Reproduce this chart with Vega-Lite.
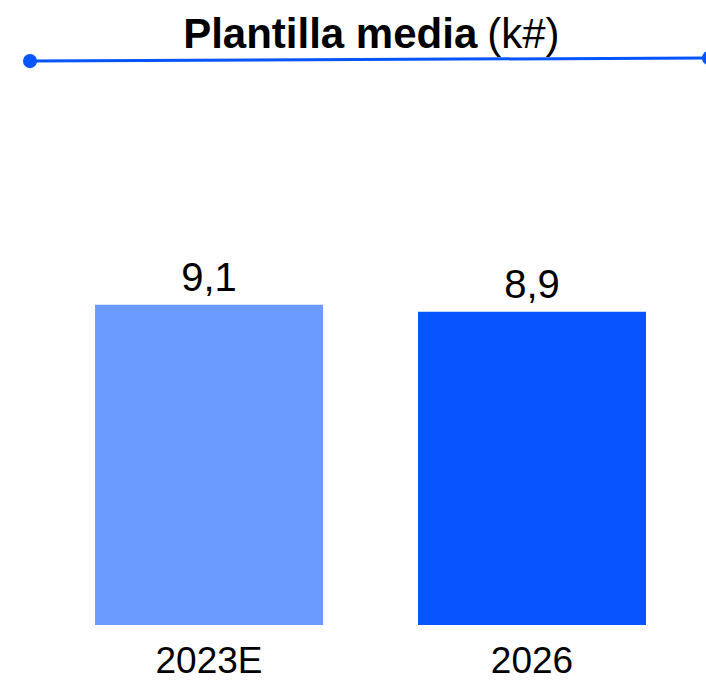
{
  "$schema": "https://vega.github.io/schema/vega-lite/v6.json",
  "width": 706,
  "height": 625,
  "autosize": {"type": "none"},
  "padding": {"left": 0, "top": 0, "right": 0, "bottom": 55},
  "background": "white",
  "config": {
    "view": {"stroke": null},
    "font": "Liberation Sans",
    "locale": {"number": {"decimal": ",", "thousands": ".", "grouping": [3], "currency": ["", " €"]}}
  },
  "data": {"values": [
    {"year": "2023E", "value": 9.1},
    {"year": "2026", "value": 8.9}
  ]},
  "resolve": {"scale": {"x": "independent"}},
  "layer": [
    {
      "mark": {"type": "bar"},
      "encoding": {
        "x": {"field": "year", "type": "nominal", "sort": null,
              "scale": {"type": "band", "paddingInner": 0.294, "paddingOuter": 0.24, "align": 0.613},
              "axis": {"title": null, "domain": false, "ticks": false, "labelAngle": 0, "labelFontSize": 37, "labelColor": "black", "labelPadding": 18, "labelFont": "Liberation Sans"}},
        "y": {"field": "value", "type": "quantitative", "scale": {"domain": [0, 17.756], "nice": false}, "axis": null},
        "color": {"field": "year", "type": "nominal", "scale": {"domain": ["2023E", "2026"], "range": ["#6B9BFF", "#0655FF"]}, "legend": null}
      }
    },
    {
      "mark": {"type": "text", "baseline": "alphabetic", "dy": -14, "fontSize": 40, "color": "black"},
      "encoding": {
        "x": {"field": "year", "type": "nominal", "sort": null,
              "scale": {"type": "band", "paddingInner": 0.294, "paddingOuter": 0.24, "align": 0.613}, "axis": null, "bandPosition": 0.5},
        "y": {"field": "value", "type": "quantitative", "scale": {"domain": [0, 17.756], "nice": false}, "axis": null},
        "text": {"field": "value", "type": "quantitative", "format": ".1f"}
      }
    },
    {
      "data": {"values": [{}]},
      "mark": {"type": "rule", "color": "#0655FF", "strokeWidth": 3},
      "encoding": {
        "x": {"datum": 4.25, "type": "quantitative", "scale": {"domain": [0, 100], "nice": false, "zero": false}, "axis": null},
        "x2": {"datum": 100.42},
        "y": {"datum": 16.02, "type": "quantitative", "scale": {"domain": [0, 17.756], "nice": false}, "axis": null},
        "y2": {"datum": 16.11}
      }
    },
    {
      "data": {"values": [{"end": "left", "xp": 4.25, "yp": 16.02}, {"end": "right", "xp": 100.42, "yp": 16.11}]},
      "mark": {"type": "point", "shape": "circle", "filled": true, "color": "#0655FF", "opacity": 1, "size": 200},
      "encoding": {
        "x": {"field": "xp", "type": "quantitative", "scale": {"domain": [0, 100], "nice": false, "zero": false}, "axis": null},
        "y": {"field": "yp", "type": "quantitative", "scale": {"domain": [0, 17.756], "nice": false}, "axis": null}
      }
    },
    {
      "data": {"values": [{}]},
      "mark": {"type": "text", "text": "Plantilla media", "fontWeight": "bold", "fontSize": 42, "align": "right", "baseline": "alphabetic", "color": "black"},
      "encoding": {
        "x": {"datum": 67.6, "type": "quantitative", "scale": {"domain": [0, 100], "nice": false, "zero": false}, "axis": null},
        "y": {"datum": 16.39, "type": "quantitative", "scale": {"domain": [0, 17.756], "nice": false}, "axis": null}
      }
    },
    {
      "data": {"values": [{}]},
      "mark": {"type": "text", "text": "(k#)", "fontSize": 42, "align": "left", "baseline": "alphabetic", "color": "black"},
      "encoding": {
        "x": {"datum": 69.0, "type": "quantitative", "scale": {"domain": [0, 100], "nice": false, "zero": false}, "axis": null},
        "y": {"datum": 16.39, "type": "quantitative", "scale": {"domain": [0, 17.756], "nice": false}, "axis": null}
      }
    }
  ]
}
